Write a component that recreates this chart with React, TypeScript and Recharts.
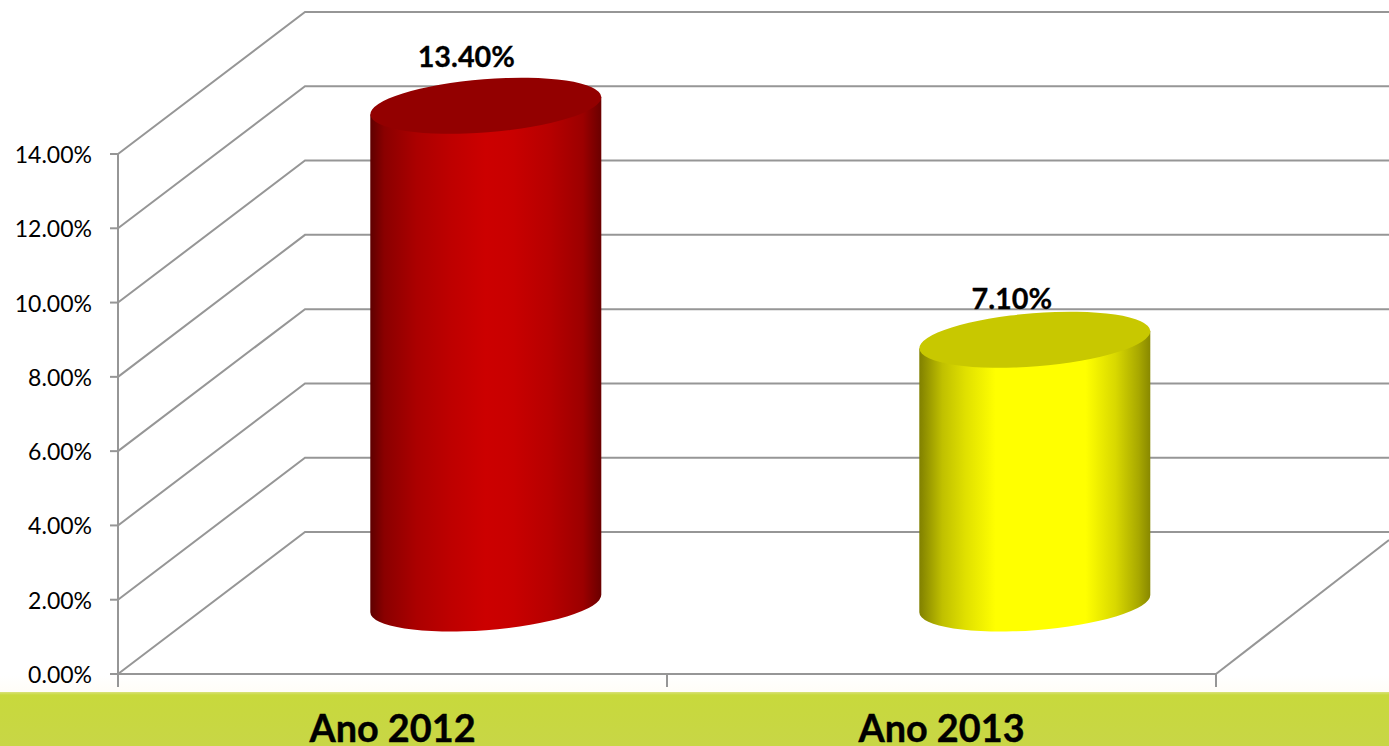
import React from "react";
import { BarChart, Bar, XAxis, YAxis, CartesianGrid } from "recharts";

const categories = ["Ano 2012", "Ano 2013"];
const values = [13.4, 7.1];
const valueLabels = ["13.40%", "7.10%"];
const yTicks = [0, 2, 4, 6, 8, 10, 12, 14];

const rows = categories.map((name, i) => ({ name, value: values[i] }));

const FONT = "Lato, 'Open Sans', sans-serif";
const GRID = "#969696";
const DEPTH_X = 187;
const DEPTH_Y = 142;
const BAR_DX = 93.3;
const BAR_DY = -70.5;
const RX = 115.8;
const RY = 26.6;
const ROT = -4.5;
const SKEW = 8.7;

const palettes = [
  {
    top: "#930000",
    stops: [
      [0, "#5e0000"], [0.06, "#8a0000"], [0.2, "#ab0000"], [0.35, "#be0000"], [0.5, "#cc0000"],
      [0.62, "#c80000"], [0.78, "#b60000"], [0.92, "#9c0000"], [1, "#6a0000"],
    ],
  },
  {
    top: "#c8c800",
    stops: [
      [0, "#808000"], [0.1, "#c0c000"], [0.2, "#e0e000"], [0.33, "#ffff00"],
      [0.72, "#ffff00"], [0.85, "#d8d800"], [0.95, "#a8a800"], [1, "#888800"],
    ],
  },
];
const labelOffsets = [
  [-19.5, -39],
  [-23, -30.5],
];

function Cylinder(props: any) {
  const { x, y, width, height, index } = props;
  const cx = x + width / 2 + BAR_DX;
  const cyTop = y + BAR_DY;
  const cyBot = y + height + BAR_DY;
  const hw = width / 2;
  const pal = palettes[index];
  const id = `cyl-${index}`;
  const body =
    `M${cx - hw},${cyTop + SKEW} L${cx - hw},${cyBot + SKEW} ` +
    `A${RX},${RY} ${ROT} 0 0 ${cx + hw},${cyBot - SKEW} ` +
    `L${cx + hw},${cyTop - SKEW} Z`;
  return (
    <g>
      <defs>
        <linearGradient id={id} gradientUnits="userSpaceOnUse" x1={cx - hw} x2={cx + hw} y1={0} y2={0}>
          {pal.stops.map(([o, c]) => (
            <stop key={String(o)} offset={o as number} stopColor={c as string} />
          ))}
        </linearGradient>
      </defs>
      <text
        x={cx + labelOffsets[index][0]}
        y={cyTop + labelOffsets[index][1]}
        textAnchor="middle"
        fontFamily={FONT}
        fontWeight={700}
        fontSize={28.8}
        fill="#000"
        stroke="#000"
        strokeWidth={0.3}
      >
        {valueLabels[index]}
      </text>
      <path d={body} fill={`url(#${id})`} />
      <ellipse
        cx={cx}
        cy={cyTop}
        rx={RX}
        ry={RY}
        fill={pal.top}
        transform={`rotate(${ROT} ${cx} ${cyTop})`}
      />
    </g>
  );
}

function gridLine(props: any) {
  const { x1, x2, y1, key } = props;
  const isFloor = Math.abs(y1 - 674) < 1;
  return (
    <g key={key ?? y1}>
      <polyline
        points={`${x1},${y1} ${x1 + DEPTH_X},${y1 - DEPTH_Y} 1389,${y1 - DEPTH_Y}`}
        fill="none"
        stroke={GRID}
        strokeWidth={2}
      />
      {isFloor && (
        <line x1={x2} y1={y1} x2={1389} y2={y1 - 134} stroke={GRID} strokeWidth={2} />
      )}
    </g>
  );
}

function YTick(props: any) {
  const { x, y, payload } = props;
  return (
    <g>
      <line x1={x - 8} x2={x} y1={y} y2={y} stroke={GRID} strokeWidth={2} />
      <text x={x - 26} y={y + 9} textAnchor="end" fontFamily={FONT} fontSize={23} fill="#000">
        {`${Number(payload.value).toFixed(2)}%`}
      </text>
    </g>
  );
}

function XTick(props: any) {
  const { x, y, payload, index } = props;
  const half = 274.5;
  return (
    <g>
      {index === 0 && <line x1={x - half} x2={x - half} y1={y} y2={y + 13} stroke={GRID} strokeWidth={2} />}
      <line x1={x + half} x2={x + half} y1={y} y2={y + 13} stroke={GRID} strokeWidth={2} />
      <text
        x={x}
        y={y + 68}
        textAnchor="middle"
        fontFamily={FONT}
        fontWeight={700}
        fontSize={37.8}
        fill="#000"
        stroke="#000"
        strokeWidth={0.4}
      >
        {payload.value}
      </text>
    </g>
  );
}

export default function App() {
  return (
    <div
      style={{
        position: "absolute",
        left: 0,
        top: 0,
        width: 1389,
        height: 746,
        overflow: "hidden",
        background: "linear-gradient(#ffffff 0, #ffffff 676px, #fffdf8 690px)",
      }}
    >
      <div
        style={{
          position: "absolute",
          left: 0,
          top: 692,
          width: 1389,
          height: 54,
          background: "linear-gradient(#d9e27a 0, #c8d93c 3px, #c8d646 100%)",
        }}
      />
      <div style={{ position: "absolute", left: 0, top: 0 }}>
        <BarChart
          width={1389}
          height={746}
          data={rows}
          barSize={231}
          margin={{ top: 154, right: 173, bottom: 0, left: 0 }}
        >
          <CartesianGrid horizontal={gridLine} vertical={false} syncWithTicks />
          <YAxis
            width={118}
            domain={[0, 14]}
            ticks={yTicks}
            interval={0}
            tickLine={false}
            tickSize={0}
            tickMargin={0}
            tick={<YTick />}
            axisLine={{ stroke: GRID, strokeWidth: 2 }}
          />
          <XAxis
            dataKey="name"
            height={72}
            interval={0}
            tickLine={false}
            tickSize={0}
            tickMargin={0}
            tick={<XTick />}
            axisLine={{ stroke: GRID, strokeWidth: 2 }}
          />
          <Bar dataKey="value" shape={<Cylinder />} isAnimationActive={false} />
        </BarChart>
      </div>
    </div>
  );
}
